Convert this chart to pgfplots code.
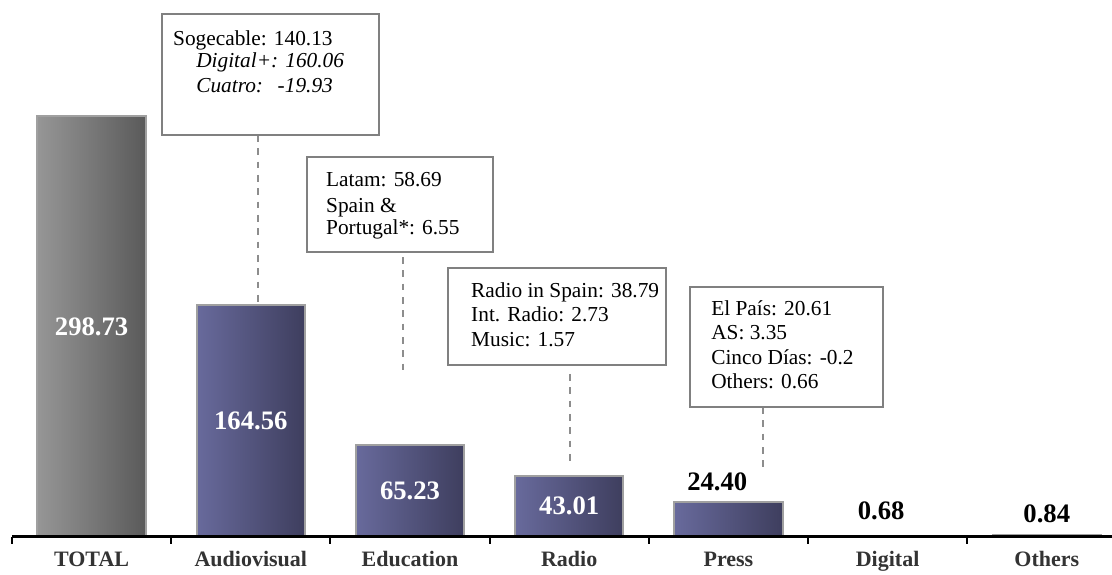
\documentclass[border=0pt]{standalone}
\usepackage{pgfplots}
\pgfplotsset{compat=1.18}
\usepackage{fontspec}
\setmainfont{Liberation Serif}

\definecolor{barblueL}{RGB}{104,106,156}
\definecolor{barblueR}{RGB}{62,62,94}
\definecolor{bargrayL}{RGB}{150,150,150}
\definecolor{bargrayR}{RGB}{90,90,90}
\definecolor{barline}{RGB}{160,160,160}
\definecolor{boxline}{RGB}{128,128,128}
\definecolor{ticktext}{RGB}{51,51,51}

\tikzset{
  boxtext/.style={anchor=base west, inner sep=0pt, font=\fontsize{16}{18}\selectfont},
  boxit/.style={boxtext, font=\fontsize{16}{18}\selectfont\itshape},
  callout/.style={boxline, line width=1.8pt, fill=white},
  leader/.style={boxline!90, line width=1.4pt, dash pattern=on 5pt off 5pt},
}
\pgfplotsset{
  bluebar/.style={ybar, bar shift=0pt, draw=barline, line width=1.5pt,
    left color=barblueL, right color=barblueR},
}

\begin{document}
\begin{tikzpicture}
\useasboundingbox (-9pt,-28.125pt) rectangle (825pt,402.375pt);
\begin{axis}[
  scale only axis, width=825pt, height=402.375pt,
  xmin=-0.5, xmax=6.4095, ymin=0, ymax=381.3,
  axis x line=bottom, axis y line=none,
  x axis line style={-, black, line width=2pt},
  xtick={0,...,6},
  xticklabels={TOTAL,Audiovisual,Education,Radio,Press,Digital,Others},
  xticklabel style={font=\fontsize{16.5}{18}\selectfont\bfseries, text=ticktext,
    anchor=base, yshift=-22.5pt},
  major tick length=0pt,
  xtick style={black, line width=1.5pt},
  extra x ticks={-0.5,0.5,1.5,2.5,3.5,4.5,5.5},
  extra x tick labels={},
  extra x tick style={major tick length=5.5pt},
  tick align=outside,
  ytick=\empty,
  clip=false,
  bar width=0.68,
  axis on top,
]
% total bar
\addplot[ybar, bar shift=0pt, draw=barline, line width=1.5pt,
  left color=bargrayL, right color=bargrayR] coordinates {(0,298.73)};
% business units, one plot per bar so each bar gets its own shading
\addplot[bluebar] coordinates {(1,164.56)};
\addplot[bluebar] coordinates {(2,65.23)};
\addplot[bluebar] coordinates {(3,43.01)};
\addplot[bluebar] coordinates {(4,24.40)};
\addplot[bluebar] coordinates {(5,0.68)};
\addplot[bluebar] coordinates {(6,0.84)};

% white values inside the bars
\addplot[draw=none, nodes near coords, point meta=explicit symbolic,
  nodes near coords style={anchor=center, white, font=\fontsize{20}{22}\selectfont\bfseries}]
  coordinates {(0,149.37)[298.73] (1,82.28)[164.56] (2,32.6)[65.23] (3,21.5)[43.01]};
% black values above the small bars
\addplot[draw=none, nodes near coords, point meta=explicit symbolic,
  nodes near coords style={anchor=base, black, font=\fontsize{20}{22}\selectfont\bfseries}]
  coordinates {(3.93,33.0)[24.40] (4.96,12.4)[0.68] (6,9.6)[0.84]};

% callouts
\draw[leader] (axis cs:1.045,285.4) -- (axis cs:1.045,162.4);
\draw[callout] (axis cs:0.442,285.4) rectangle (axis cs:1.805,371.4);
\node[boxtext] at (axis cs:0.511,349.3) {Sogecable: 140.13};
\node[boxit] at (axis cs:0.656,333.0) {Digital+: 160.06};
\node[boxit] at (axis cs:0.656,315.9) {Cuatro:\hspace{11pt}-19.93};

\draw[leader] (axis cs:1.956,198.6) -- (axis cs:1.956,114.1);
\draw[callout] (axis cs:1.353,202.2) rectangle (axis cs:2.521,269.7);
\node[boxtext] at (axis cs:1.472,248.4) {Latam: 58.69};
\node[boxtext] at (axis cs:1.472,230.6) {Spain \&};
\node[boxtext] at (axis cs:1.472,214.3) {Portugal*: 6.55};

\draw[leader] (axis cs:3.005,115.5) -- (axis cs:3.005,51.5);
\draw[callout] (axis cs:2.239,121.9) rectangle (axis cs:3.608,190.8);
\node[boxtext] at (axis cs:2.383,170.2) {Radio in Spain: 38.79};
\node[boxtext] at (axis cs:2.383,152.5) {Int. Radio: 2.73};
\node[boxtext] at (axis cs:2.383,134.7) {Music: 1.57};

\draw[leader] (axis cs:4.217,92.0) -- (axis cs:4.217,47.3);
\draw[callout] (axis cs:3.759,92.0) rectangle (axis cs:4.971,177.3);
\node[boxtext] at (axis cs:3.891,157.4) {El País: 20.61};
\node[boxtext] at (axis cs:3.891,139.7) {AS: 3.35};
\node[boxtext] at (axis cs:3.891,121.9) {Cinco Días: -0.2};
\node[boxtext] at (axis cs:3.891,105.5) {Others: 0.66};
\end{axis}
\end{tikzpicture}
\end{document}
